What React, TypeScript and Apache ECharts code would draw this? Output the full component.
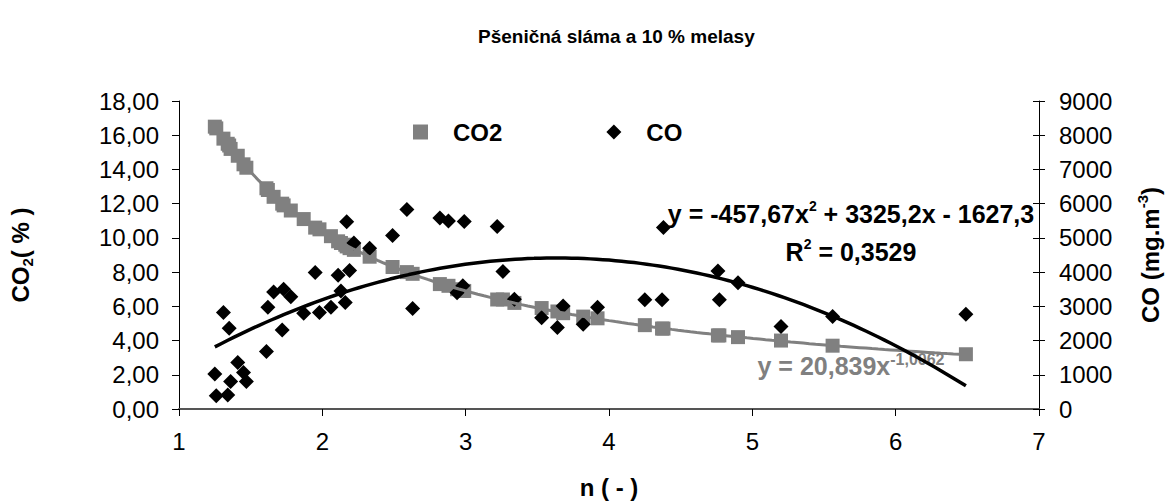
import React, { useEffect, useRef } from "react";
import * as echarts from "echarts";

const chartTitle = "Pšeničná sláma a 10 % melasy";
const xName = "n ( - )";

// n (-) values shared by both measurements
const nValues = [1.25, 1.26, 1.31, 1.34, 1.35, 1.36, 1.41, 1.45, 1.47, 1.61, 1.62, 1.66, 1.72, 1.73, 1.78, 1.87, 1.95, 1.98, 2.06, 2.11, 2.13, 2.16, 2.17, 2.19, 2.22, 2.33, 2.49, 2.59, 2.63, 2.82, 2.88, 2.94, 2.98, 2.99, 3.22, 3.26, 3.34, 3.53, 3.64, 3.68, 3.82, 3.92, 4.25, 4.37, 4.38, 4.76, 4.77, 4.9, 5.2, 5.56, 6.49];
// CO2 (%)
const co2Values = [16.5, 16.4, 15.8, 15.5, 15.4, 15.2, 14.8, 14.3, 14.1, 12.9, 12.8, 12.4, 12.0, 11.9, 11.6, 11.1, 10.6, 10.5, 10.1, 9.8, 9.7, 9.6, 9.5, 9.4, 9.3, 8.9, 8.3, 8.0, 7.9, 7.3, 7.2, 7.0, 6.9, 6.9, 6.4, 6.4, 6.2, 5.9, 5.7, 5.6, 5.4, 5.3, 4.9, 4.7, 4.7, 4.3, 4.3, 4.2, 4.0, 3.7, 3.2];
// CO (mg.m-3)
const coValues = [1020, 390, 2820, 410, 2360, 800, 1360, 1070, 800, 1680, 2970, 3420, 2310, 3500, 3280, 2800, 3990, 2820, 2970, 3910, 3450, 3110, 5470, 4050, 4850, 4700, 5070, 5830, 2940, 5580, 5490, 3400, 3600, 5480, 5330, 4020, 3210, 2670, 2380, 3010, 2480, 2970, 3190, 3190, 5300, 4030, 3190, 3690, 2410, 2700, 2770];

// regression equations displayed on the chart
const polyCoef = { a: -457.67, b: 3325.2, c: -1627.3 };
const powerCoef = { k: 20.839, p: -1.0062 };

const leftAxis = { min: 0, max: 18, interval: 2 };
const rightAxis = { min: 0, max: 9000, interval: 1000 };
const xAxisRange = { min: 1, max: 7, interval: 1 };

const FONT = "'Liberation Sans', Arial, sans-serif";
const GRAY = "#808080";

function trend(fn: (x: number) => number, x0: number, x1: number, steps: number) {
  const out: number[][] = [];
  for (let i = 0; i <= steps; i++) {
    const x = x0 + ((x1 - x0) * i) / steps;
    out.push([x, fn(x)]);
  }
  return out;
}

export default function App() {
  const ref = useRef<HTMLDivElement>(null);
  useEffect(() => {
    if (!ref.current) return;
    const chart = echarts.init(ref.current, undefined, { renderer: "svg" });
    const xMinData = Math.min(...nValues);
    const xMaxData = Math.max(...nValues);
    const polyLine = trend((x) => polyCoef.a * x * x + polyCoef.b * x + polyCoef.c, xMinData, xMaxData, 120);
    const powLine = trend((x) => powerCoef.k * Math.pow(x, powerCoef.p), xMinData, xMaxData, 120);

    const eqRich = {
      m: { fontSize: 25, fontWeight: "bold", fontFamily: FONT, lineHeight: 30, verticalAlign: "middle" },
      s: { fontSize: 14, fontWeight: "bold", fontFamily: FONT, lineHeight: 30, verticalAlign: "top" },
    };
    const eqRichGray = {
      m: { fontSize: 25, fontWeight: "bold", fontFamily: FONT, lineHeight: 30, verticalAlign: "middle", fill: GRAY },
      s: { fontSize: 16, fontWeight: "bold", fontFamily: FONT, lineHeight: 30, verticalAlign: "top", fill: GRAY },
    };

    chart.setOption({
      animation: false,
      backgroundColor: "#ffffff",
      title: {
        text: chartTitle,
        left: 478,
        top: 27,
        padding: 0,
        textStyle: { fontSize: 19, fontWeight: "bold", fontFamily: FONT, color: "#000" },
      },
      legend: {
        data: [
          { name: "CO2", icon: "rect" },
          { name: "CO", icon: "diamond" },
        ],
        left: 413,
        top: 120,
        padding: 0,
        itemWidth: 15,
        itemHeight: 15,
        itemGap: 104,
        formatter: "{g| }{n|{name}}",
        textStyle: {
          color: "#000",
          fontSize: 24,
          fontWeight: "bold",
          fontFamily: FONT,
          rich: {
            g: { width: 20, fontSize: 24 },
            n: { fontSize: 24, fontWeight: "bold", fontFamily: FONT, color: "#000" },
          },
        },
      },
      grid: { left: 178, right: 124, top: 101, bottom: 94, containLabel: false },
      xAxis: {
        type: "value",
        min: xAxisRange.min,
        max: xAxisRange.max,
        interval: xAxisRange.interval,
        name: xName,
        nameLocation: "middle",
        nameGap: 66,
        nameTextStyle: { fontSize: 24, fontWeight: "bold", fontFamily: FONT, color: "#000" },
        axisLine: { lineStyle: { color: "#555", width: 2 } },
        axisTick: { show: true, inside: false, length: 7, lineStyle: { color: "#000" } },
        axisLabel: { fontSize: 24, fontFamily: FONT, color: "#000", margin: 20 },
        splitLine: { show: false },
      },
      yAxis: [
        {
          type: "value",
          position: "left",
          min: leftAxis.min,
          max: leftAxis.max,
          interval: leftAxis.interval,
          name: "{a|CO}{b|2}{a|( % )}",
          nameLocation: "middle",
          nameRotate: 90,
          nameGap: 144,
          nameTextStyle: {
            color: "#000",
            rich: {
              a: { fontSize: 24, fontWeight: "bold", fontFamily: FONT, lineHeight: 30, verticalAlign: "middle" },
              b: { fontSize: 15, fontWeight: "bold", fontFamily: FONT, lineHeight: 30, verticalAlign: "bottom" },
            },
          },
          axisLine: { show: true, lineStyle: { color: "#000", width: 1 } },
          axisTick: { show: true, inside: false, length: 7, lineStyle: { color: "#000" } },
          axisLabel: {
            fontSize: 24,
            fontFamily: FONT,
            color: "#000",
            margin: 20,
            formatter: (v: number) => v.toFixed(2).replace(".", ","),
          },
          splitLine: { show: false },
        },
        {
          type: "value",
          position: "right",
          min: rightAxis.min,
          max: rightAxis.max,
          interval: rightAxis.interval,
          name: "{a|CO (mg.m}{b|-3}{a|)}",
          nameLocation: "middle",
          nameRotate: 90,
          nameGap: 96,
          nameTextStyle: {
            color: "#000",
            rich: {
              a: { fontSize: 24, fontWeight: "bold", fontFamily: FONT, lineHeight: 30, verticalAlign: "middle" },
              b: { fontSize: 15, fontWeight: "bold", fontFamily: FONT, lineHeight: 30, verticalAlign: "top" },
            },
          },
          axisLine: { show: true, lineStyle: { color: "#000", width: 1 } },
          axisTick: { show: true, inside: false, length: 6, lineStyle: { color: "#000" } },
          axisLabel: {
            fontSize: 24,
            fontFamily: FONT,
            color: "#000",
            margin: 20,
            formatter: (v: number) => String(Math.round(v)),
          },
          splitLine: { show: false },
        },
        {
          type: "value",
          position: "right",
          offset: 0,
          min: rightAxis.min,
          max: rightAxis.max,
          interval: rightAxis.interval,
          axisLine: { show: false },
          axisTick: { show: true, inside: true, length: 6, lineStyle: { color: "#000" } },
          axisLabel: { show: false },
          splitLine: { show: false },
        },
      ],
      graphic: [
        {
          type: "text",
          x: 851,
          y: 214,
          z: 0,
          style: {
            text: "{m|y = -457,67x}{s|2}{m| + 3325,2x - 1627,3}",
            align: "center",
            verticalAlign: "middle",
            rich: eqRich,
            fill: "#000",
          },
        },
        {
          type: "text",
          x: 851,
          y: 252,
          z: 0,
          style: {
            text: "{m|R}{s|2}{m| = 0,3529}",
            align: "center",
            verticalAlign: "middle",
            rich: eqRich,
            fill: "#000",
          },
        },
        {
          type: "text",
          x: 851,
          y: 366,
          z: 0,
          style: {
            text: "{m|y = 20,839x}{s|-1,0062}",
            align: "center",
            verticalAlign: "middle",
            rich: eqRichGray,
            fill: GRAY,
          },
        },
      ],
      series: [
        {
          name: "CO2",
          type: "scatter",
          yAxisIndex: 0,
          symbol: "rect",
          symbolSize: 14,
          itemStyle: { color: GRAY, opacity: 1 },
          data: nValues.map((x, i) => [x, co2Values[i]]),
          z: 3,
        },
        {
          name: "CO",
          type: "scatter",
          yAxisIndex: 1,
          symbol: "diamond",
          symbolSize: 15,
          itemStyle: { color: "#000", opacity: 1 },
          data: nValues.map((x, i) => [x, coValues[i]]),
          z: 4,
        },
        {
          name: "CO2 trend",
          type: "line",
          yAxisIndex: 0,
          showSymbol: false,
          symbol: "none",
          lineStyle: { color: GRAY, width: 3, opacity: 1 },
          data: powLine,
          z: 5,
        },
        {
          name: "CO trend",
          type: "line",
          yAxisIndex: 1,
          showSymbol: false,
          symbol: "none",
          lineStyle: { color: "#000", width: 3.5, opacity: 1 },
          data: polyLine,
          z: 6,
        },
      ],
    });
    return () => chart.dispose();
  }, []);
  return (
    <div
      ref={ref}
      style={{ position: "fixed", left: 0, top: 0, width: 1170, height: 504, background: "#fff" }}
    />
  );
}
